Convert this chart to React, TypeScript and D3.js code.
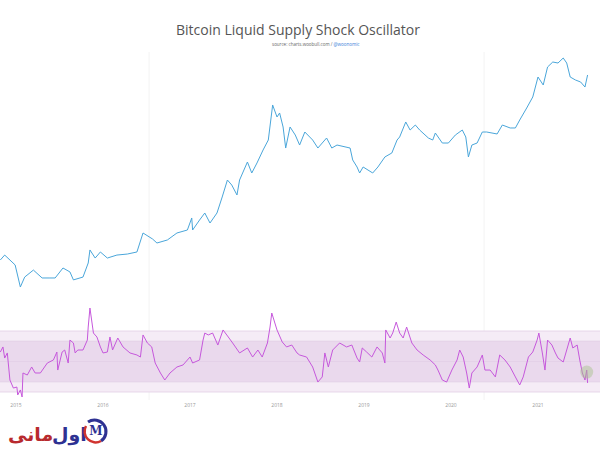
import React from "react";
import * as d3 from "d3";

// Decimal-year dates and BTC price (USD)
const priceDates = [2014.82,2014.87,2014.99,2015.05,2015.10,2015.20,2015.30,2015.39,2015.45,2015.54,2015.62,2015.66,2015.77,2015.83,2015.85,2015.91,2015.97,2016.05,2016.16,2016.28,2016.39,2016.46,2016.57,2016.62,2016.74,2016.85,2016.97,2017.02,2017.03,2017.11,2017.17,2017.23,2017.31,2017.37,2017.43,2017.48,2017.54,2017.57,2017.66,2017.71,2017.77,2017.84,2017.90,2017.95,2018.00,2018.03,2018.07,2018.10,2018.15,2018.21,2018.26,2018.32,2018.41,2018.47,2018.57,2018.63,2018.69,2018.84,2018.87,2018.92,2018.95,2018.99,2019.10,2019.16,2019.24,2019.32,2019.38,2019.41,2019.48,2019.53,2019.59,2019.64,2019.74,2019.79,2019.82,2019.90,2019.97,2020.05,2020.13,2020.17,2020.20,2020.24,2020.30,2020.36,2020.41,2020.53,2020.59,2020.68,2020.74,2020.79,2020.87,2020.94,2021.00,2021.06,2021.11,2021.17,2021.23,2021.29,2021.33,2021.37,2021.43,2021.49,2021.54,2021.57];
const priceValues = [327,372,287,161,209,251,204,204,204,265,239,194,209,302,425,344,403,344,372,382,403,663,566,510,552,663,717,982,717,931,1119,861,1119,1702,2656,2329,1794,2656,4256,3192,4150,5834,7570,18950,13840,15370,10650,6140,10650,8630,6640,9340,7570,6140,7980,6140,6640,6140,4490,3735,3192,3735,3192,3735,4855,5390,7570,8200,12140,9840,11220,9840,7980,7570,9100,7000,7000,8630,9840,8200,4855,6640,7000,9340,9340,8870,11220,10380,10380,12790,17510,23380,39450,32000,51290,58450,56900,64900,56900,39450,36500,34600,30350,41590];

// Liquid supply shock oscillator (standard deviations)
const oscDates = [2014.82,2014.85,2014.87,2014.90,2014.93,2014.97,2015.01,2015.02,2015.05,2015.07,2015.08,2015.13,2015.18,2015.22,2015.28,2015.36,2015.43,2015.47,2015.48,2015.53,2015.56,2015.60,2015.62,2015.66,2015.68,2015.71,2015.77,2015.82,2015.83,2015.85,2015.89,2015.93,2015.97,2016.00,2016.05,2016.08,2016.11,2016.17,2016.23,2016.31,2016.39,2016.43,2016.46,2016.51,2016.56,2016.60,2016.66,2016.71,2016.77,2016.85,2016.92,2017.00,2017.03,2017.11,2017.15,2017.17,2017.21,2017.26,2017.32,2017.38,2017.44,2017.49,2017.57,2017.66,2017.72,2017.78,2017.83,2017.89,2017.92,2017.94,2018.00,2018.06,2018.11,2018.17,2018.23,2018.26,2018.34,2018.41,2018.47,2018.52,2018.55,2018.59,2018.64,2018.72,2018.80,2018.86,2018.92,2018.95,2018.98,2019.03,2019.09,2019.15,2019.21,2019.24,2019.25,2019.30,2019.33,2019.37,2019.41,2019.45,2019.49,2019.55,2019.61,2019.68,2019.76,2019.82,2019.85,2019.90,2019.95,2020.01,2020.07,2020.10,2020.14,2020.18,2020.21,2020.24,2020.30,2020.36,2020.39,2020.45,2020.51,2020.56,2020.62,2020.68,2020.74,2020.79,2020.83,2020.89,2020.94,2020.99,2021.01,2021.05,2021.08,2021.11,2021.16,2021.20,2021.23,2021.29,2021.33,2021.37,2021.40,2021.45,2021.48,2021.51,2021.54,2021.56,2021.57];
const oscValues = [0.93,1.43,0.34,0.84,-1.82,-2.61,-2.51,-3.29,-2.80,-3.49,-1.13,-1.33,-0.54,-1.13,-1.13,-0.15,0.15,0.93,-0.84,0.93,1.13,-0.15,2.11,1.82,0.84,1.13,1.13,2.11,3.39,5.26,2.80,2.41,1.43,0.84,0.93,2.41,1.13,2.31,1.43,0.84,0.64,0.44,2.61,1.82,1.43,-0.15,-1.13,-1.82,-1.13,-0.54,-0.34,0.44,-0.15,0.15,2.11,2.80,2.61,2.80,1.62,3.10,2.41,1.82,0.84,1.33,0.44,1.13,0.44,1.82,3.39,4.77,3.10,1.92,1.43,1.62,0.84,0.64,0.44,-0.54,-2.02,-1.52,0.84,-0.54,1.13,1.82,1.43,1.62,0.34,-0.05,1.33,0.93,0.44,1.43,0.84,-0.15,3.10,2.31,2.80,3.88,2.80,2.31,3.39,1.82,1.13,0.64,0.15,-0.34,-0.84,-1.82,-2.02,-0.84,0.15,1.13,0.44,-1.13,-2.61,-1.13,-0.54,0.64,-0.84,-0.84,-1.52,0.64,0.15,-0.54,-1.52,-2.31,-1.52,0.44,0.93,2.11,2.80,0.84,-0.84,2.11,1.62,0.84,0.34,-0.05,1.13,2.31,1.33,1.62,0.15,-1.13,-1.82,-0.84,-2.11];

const yearTicks = [2015, 2016, 2017, 2018, 2019, 2020, 2021];
const bandLevels = [3, 2, 0, -2, -3];

const W = 600;
const H = 450;

export default function App() {
  const x = d3.scaleLinear().domain([2015, 2021]).range([16, 538]);
  const yPrice = d3.scaleLog().domain([100, 100000]).range([305.2, 41.5]);
  const yOsc = d3.scaleLinear().domain([-3, 3]).range([392, 331]);

  const priceLine = d3
    .line<number>()
    .x((_, i) => x(priceDates[i]))
    .y((d) => yPrice(d));
  const oscLine = d3
    .line<number>()
    .x((_, i) => x(oscDates[i]))
    .y((d) => yOsc(d));

  const lastI = oscValues.length - 2;
  const persianFont = "'Noto Sans', 'DejaVu Sans', sans-serif";

  return (
    <div style={{ position: "absolute", left: 0, top: 0 }}>
      <svg width={W} height={H} style={{ display: "block", background: "#fff" }}>
        {/* faint vertical grid */}
        {[2016.53, 2020.38].map((d) => (
          <line key={d} x1={x(d)} x2={x(d)} y1={52} y2={400} stroke="#f3f3f3" strokeWidth={1} />
        ))}
        {/* title */}
        <text x={298} y={35} textAnchor="middle" fontFamily="'Open Sans', sans-serif" fontSize={14} fill="#555">
          Bitcoin Liquid Supply Shock Oscillator
        </text>
        <text x={272} y={46} fontFamily="'Open Sans', sans-serif" fontSize={4.5} fill="#666">
          source: charts.woobull.com / <tspan fill="#3b7dd8">@woonomic</tspan>
        </text>

        {/* oscillator bands */}
        <rect x={0} width={W} y={yOsc(3)} height={yOsc(-3) - yOsc(3)} fill="#f5ecf6" />
        <rect x={0} width={W} y={yOsc(2)} height={yOsc(-2) - yOsc(2)} fill="#ead9ed" />
        {bandLevels.map((b) => (
          <line key={b} x1={0} x2={W} y1={yOsc(b)} y2={yOsc(b)} stroke="#e2cfe6" strokeWidth={0.8} />
        ))}

        {/* price line */}
        <path d={priceLine(priceValues) || ""} fill="none" stroke="#4aa6da" strokeWidth={1} strokeLinejoin="round" />
        {/* oscillator line */}
        <path d={oscLine(oscValues) || ""} fill="none" stroke="#c658dc" strokeWidth={1} strokeLinejoin="round" />
        <circle cx={x(oscDates[lastI])} cy={yOsc(oscValues[lastI]) + 2} r={6.5} fill="#a7c08a" fillOpacity={0.45} />

        {/* x axis labels */}
        {yearTicks.map((t) => (
          <text key={t} x={x(t)} y={407} textAnchor="middle" fontFamily="'Open Sans', sans-serif" fontSize={5} fill="#999">
            {t}
          </text>
        ))}

        {/* watermark */}
        <g>
          <text x={8} y={441} textAnchor="start" fontFamily={persianFont} fontWeight="bold" fontSize={19} fill="#b82a2e">
            مانی
          </text>
          <text x={52} y={441} textAnchor="start" fontFamily={persianFont} fontWeight="bold" fontSize={19} fill="#2e3192">
            اول
          </text>
          <path d="M 88 422 A 11 11 0 1 1 101 441" fill="none" stroke="#2e3192" strokeWidth={3} />
          <path d="M 101 441 A 11 11 0 0 1 86 426" fill="none" stroke="#d0332f" strokeWidth={2.5} />
          <text x={96} y={435} textAnchor="middle" fontFamily="'DejaVu Serif', serif" fontWeight="bold" fontSize={12} fill="#2e3192">
            M
          </text>
        </g>
      </svg>
    </div>
  );
}
